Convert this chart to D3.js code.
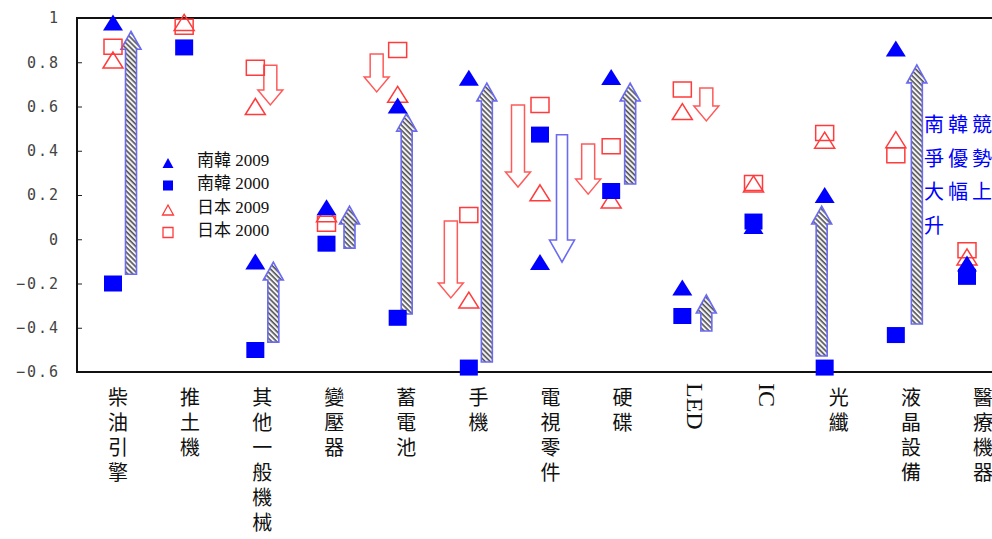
<!DOCTYPE html>
<html>
<head>
<meta charset="utf-8">
<script src="https://cdn.jsdelivr.net/npm/d3@7"></script>
<style>
  html, body { margin: 0; padding: 0; background: #fff; }
  svg { display: block; }
</style>
</head>
<body>
<svg id="chart" width="992" height="539"></svg>
<script>
// ---------- DATA ----------
const categories = ["柴油引擎", "推土機", "其他一般機械", "變壓器", "蓄電池", "手機", "電視零件", "硬碟", "LED", "IC", "光纖", "液晶設備", "醫療機器"];
const korea2009 = [0.98, null, -0.10, 0.145, 0.605, 0.73, -0.103, 0.733, -0.218, 0.06, 0.20, 0.862, -0.11];
const korea2000 = [-0.20, 0.867, -0.50, -0.02, -0.355, -0.58, 0.473, 0.218, -0.347, 0.08, -0.58, -0.433, -0.17];
const japan2009 = [0.81, 0.98, 0.60, 0.115, 0.655, -0.275, 0.21, 0.177, 0.577, 0.25, 0.448, 0.45, -0.08];
const japan2000 = [0.87, 0.96, 0.775, 0.07, 0.855, 0.11, 0.607, 0.42, 0.677, 0.254, 0.48, 0.38, -0.05];

// arrows: category, start value, end value
const koreaArrowCats = ["柴油引擎", "其他一般機械", "變壓器", "蓄電池", "手機", "電視零件", "硬碟", "LED", "光纖", "液晶設備"];
const koreaArrowFrom = [-0.158, -0.465, -0.04, -0.338, -0.555, 0.472, 0.25, -0.415, -0.528, -0.383];
const koreaArrowTo   = [0.94, -0.103, 0.15, 0.57, 0.706, -0.103, 0.706, -0.252, 0.15, 0.788];
const japanArrowCats = ["其他一般機械", "蓄電池", "手機", "電視零件", "硬碟", "LED"];
const japanArrowFrom = [0.787, 0.837, 0.083, 0.607, 0.43, 0.684];
const japanArrowTo   = [0.607, 0.666, -0.265, 0.236, 0.204, 0.535];

const yTicks = [1, 0.8, 0.6, 0.4, 0.2, 0, -0.2, -0.4, -0.6];
const legendLabels = ["南韓 2009", "南韓 2000", "日本 2009", "日本 2000"];
const noteText = "南韓競爭優勢大幅上升";

// ---------- LAYOUT ----------
const svg = d3.select("#chart");
const mLeft = 77, mTop = 18, mBottom = 372, mRight = 992;
const blue = "#0000ff", red = "#ff3b3b";

const y = d3.scaleLinear().domain([-0.6, 1]).range([mBottom, mTop]);
const xMark = d3.scalePoint().domain(categories).range([113, 967]);
const xLabel = d3.scalePoint().domain(categories).range([118, 983]);

// horizontal shift of each arrow from its category (layout only)
const koreaShift = [18, 18, 23, 9, 18, 22, 19, 24, -3, 21];
const japanShift = [15, -21, -18, -22, -23, 24];

// hatch pattern
const defs = svg.append("defs");
const pat = defs.append("pattern").attr("id", "hatch")
  .attr("patternUnits", "userSpaceOnUse").attr("width", 3.6).attr("height", 3.6)
  .attr("patternTransform", "rotate(-45)");
pat.append("rect").attr("width", 3.6).attr("height", 3.6).attr("fill", "#f2f2f6");
pat.append("line").attr("x1", 1).attr("x2", 1).attr("y1", 0).attr("y2", 3.6)
  .attr("stroke", "#4a4a4a").attr("stroke-width", 1.5);

const clip = defs.append("clipPath").attr("id", "plotclip");
clip.append("rect").attr("x", mLeft).attr("y", mTop - 10).attr("width", mRight - mLeft).attr("height", mBottom - mTop + 20);

// axis
const yAxis = d3.axisLeft(y).tickValues(yTicks).tickSize(-5).tickPadding(17)
  .tickFormat(d => (d === 0 || d === 1) ? String(d) : d3.format(".1f")(d));
const ga = svg.append("g").attr("transform", `translate(${mLeft},0)`).call(yAxis);
ga.select(".domain").remove();
ga.selectAll(".tick line").attr("stroke", "#222").attr("stroke-width", 1);
ga.selectAll(".tick text")
  .attr("font-family", "'DejaVu Sans Mono', monospace")
  .attr("font-size", 15).attr("letter-spacing", "2px")
  .attr("fill", "#444");

// frame
svg.append("line").attr("x1", mLeft).attr("x2", mRight).attr("y1", mTop).attr("y2", mTop)
  .attr("stroke", "#111").attr("stroke-width", 2);
svg.append("line").attr("x1", mLeft).attr("x2", mRight).attr("y1", mBottom).attr("y2", mBottom)
  .attr("stroke", "#111").attr("stroke-width", 2);
svg.append("line").attr("x1", mLeft).attr("x2", mLeft).attr("y1", mTop - 1).attr("y2", mBottom + 1)
  .attr("stroke", "#111").attr("stroke-width", 2);

// arrow path
function arrowPath(x, ya, yb, sw, hw, hl) {
  const dir = yb > ya ? 1 : -1;
  const yh = yb - dir * hl;
  return `M${x - sw / 2},${ya} L${x - sw / 2},${yh} L${x - hw / 2},${yh} L${x},${yb} L${x + hw / 2},${yh} L${x + sw / 2},${yh} L${x + sw / 2},${ya} Z`;
}

const plot = svg.append("g").attr("clip-path", "url(#plotclip)");

// Japan arrows
const jArrows = japanArrowCats.map((c, i) => ({ c, from: japanArrowFrom[i], to: japanArrowTo[i], dx: japanShift[i] }));
plot.append("g").selectAll("path").data(jArrows).join("path")
  .attr("d", d => arrowPath(xMark(d.c) + d.dx, y(d.from), y(d.to), 13, 25, 15))
  .attr("fill", "#fff").attr("stroke", "#ff5a5a").attr("stroke-width", 1.5)
  .attr("stroke-linejoin", "miter");

// Korea arrows
const kArrows = koreaArrowCats.map((c, i) => ({ c, from: koreaArrowFrom[i], to: koreaArrowTo[i], dx: koreaShift[i] }));
plot.append("g").selectAll("path").data(kArrows).join("path")
  .attr("d", d => d.to > d.from
    ? arrowPath(xMark(d.c) + d.dx, y(d.from), y(d.to), 11, 20, 18)
    : arrowPath(xMark(d.c) + d.dx, y(d.from), y(d.to), 11, 25, 22))
  .attr("fill", d => d.to > d.from ? "url(#hatch)" : "#fff")
  .attr("stroke", "#6a6af2").attr("stroke-width", 1.6);

// markers
function triPath(cx, cy, w, h) {
  return `M${cx},${cy - h / 2} L${cx + w / 2},${cy + h / 2} L${cx - w / 2},${cy + h / 2} Z`;
}
function sqPath(cx, cy, w, h) {
  return `M${cx - w / 2},${cy - h / 2} h${w} v${h} h${-w} Z`;
}
const pts = (arr) => categories.map((c, i) => ({ c, v: arr[i] })).filter(d => d.v !== null);

plot.append("g").selectAll("path").data(pts(japan2000)).join("path")
  .attr("d", d => sqPath(xMark(d.c), y(d.v), 18, 15))
  .attr("fill", "none").attr("stroke", red).attr("stroke-width", 1.5);
plot.append("g").selectAll("path").data(pts(japan2009)).join("path")
  .attr("d", d => triPath(xMark(d.c), y(d.v), 20, 16))
  .attr("fill", "none").attr("stroke", red).attr("stroke-width", 1.5);
plot.append("g").selectAll("path").data(pts(korea2009)).join("path")
  .attr("d", d => triPath(xMark(d.c), y(d.v), 20, 16))
  .attr("fill", blue);
plot.append("g").selectAll("path").data(pts(korea2000)).join("path")
  .attr("d", d => sqPath(xMark(d.c), y(d.v), 18, 16))
  .attr("fill", blue);

// legend
const lg = svg.append("g");
const legendStyles = [
  { shape: "tri", fill: blue, stroke: "none" },
  { shape: "sq", fill: blue, stroke: "none" },
  { shape: "tri", fill: "none", stroke: red },
  { shape: "sq", fill: "none", stroke: red }
];
legendLabels.forEach((t, i) => {
  const cy = 160 + i * 23.5;
  const s = legendStyles[i];
  lg.append("path")
    .attr("d", s.shape === "tri" ? triPath(168, cy + 3, 11, 10) : sqPath(168, cy + 2, 10, 10))
    .attr("fill", s.fill).attr("stroke", s.stroke).attr("stroke-width", 1.3);
  lg.append("text").attr("x", 197).attr("y", cy).attr("dy", "0.35em")
    .attr("font-family", "'Liberation Serif', 'Noto Sans CJK TC', serif")
    .attr("font-size", 17).attr("fill", "#111").text(t);
});

// x labels (vertical writing mode; Latin labels turn sideways)
svg.append("g").selectAll("text").data(categories).join("text")
  .attr("x", d => xLabel(d))
  .attr("y", d => /^[A-Za-z]+$/.test(d) ? 383 : 387)
  .attr("writing-mode", "vertical-rl")
  .attr("font-family", d => /^[A-Za-z]+$/.test(d) ? "'Liberation Serif', serif" : "'Noto Sans CJK TC', sans-serif")
  .attr("font-size", d => /^[A-Za-z]+$/.test(d) ? 24 : 20)
  .attr("letter-spacing", d => /^[A-Za-z]+$/.test(d) ? "0px" : "5px")
  .attr("fill", "#111")
  .text(d => d);

// annotation
const note = svg.append("text")
  .attr("font-family", "'Noto Sans CJK TC', sans-serif")
  .attr("font-size", 20).attr("fill", blue).attr("letter-spacing", "4px");
const chars = Array.from(noteText);
for (let i = 0; i < chars.length; i += 3) {
  note.append("tspan").attr("x", 924).attr("y", 132 + (i / 3) * 33.5).text(chars.slice(i, i + 3).join(""));
}
</script>
</body>
</html>
